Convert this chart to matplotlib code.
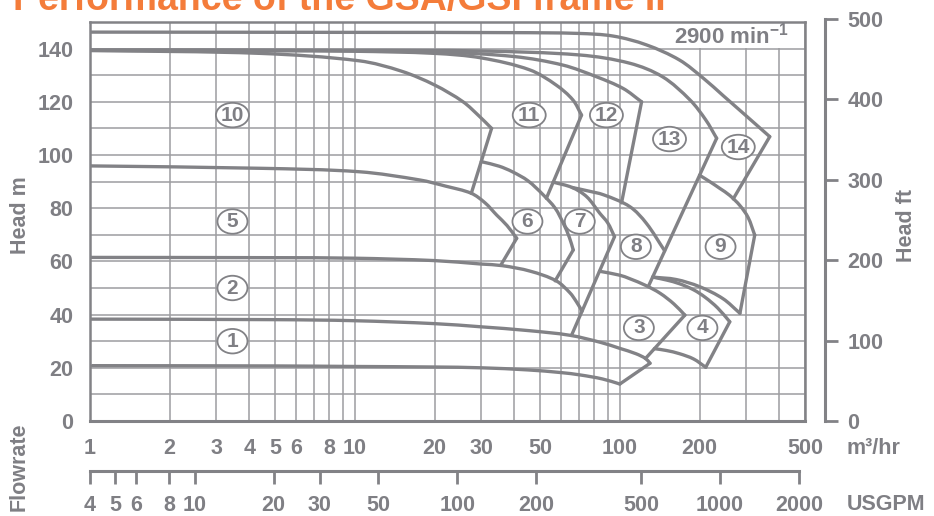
import numpy as np
import matplotlib
matplotlib.use('Agg')
import matplotlib.pyplot as plt
from matplotlib.patches import Ellipse, Rectangle, PathPatch
from matplotlib.path import Path
from matplotlib import transforms
from matplotlib.ticker import FixedLocator, FixedFormatter, NullFormatter, NullLocator

plt.rcParams['font.family'] = ['Liberation Sans', 'DejaVu Sans']
plt.rcParams['font.weight'] = 'bold'
plt.rcParams['mathtext.fontset'] = 'custom'
plt.rcParams['mathtext.rm'] = 'Liberation Sans:bold'
plt.rcParams['mathtext.it'] = 'Liberation Sans:bold'
plt.rcParams['mathtext.bf'] = 'Liberation Sans:bold'
plt.rcParams['mathtext.default'] = 'rm'

# ---------------- axis values ----------------
flow_ticks = [1, 2, 3, 4, 5, 6, 8, 10, 20, 30, 50, 100, 200, 500]
flow_grid = [7, 9, 40, 60, 70, 80, 90, 300, 400]
head_ticks = [0, 20, 40, 60, 80, 100, 120, 140]
head_grid = [10, 30, 50, 70, 90, 110, 130, 150]
feet_ticks = [0, 100, 200, 300, 400, 500]
gpm_ticks = [4, 5, 6, 8, 10, 20, 30, 50, 100, 200, 500, 1000, 2000]

# ---------------- pump curves: flow m3/h, head m ----------------
q_a = [1.02, 5, 10, 20, 30, 45, 60, 71, 86, 100]
h_a = [20.8, 20.7, 20.5, 20.3, 20.0, 19.2, 18.2, 17.3, 15.8, 13.9]

q_b = [1, 5, 10, 20, 30, 45, 65, 85, 100, 115, 125, 130]
h_b = [38.3, 38.1, 37.7, 36.6, 35.4, 34.0, 32.2, 29.5, 27.3, 25.3, 23.5, 21.7]

q_c = [1, 5, 10, 20, 30, 36, 46, 57.5, 64.8, 68.6, 72]
h_c = [61.5, 61.4, 61.2, 60.3, 59.0, 58.4, 56.3, 52.7, 48.2, 44.8, 41.3]

q_d = [1, 4.4, 10.4, 17.6, 22, 27.5, 31, 34.3, 37.5, 40.8]
h_d = [95.9, 95.0, 93.7, 90.6, 88.3, 85.6, 82.0, 77.4, 73.5, 68.7]

q_e = [1, 4.4, 10.4, 15, 20, 25.6, 29.6, 32.8]
h_e = [139.3, 138.2, 135.4, 131.5, 126.3, 120.0, 114.4, 110.0]

q_f = [30.0, 35, 39.3, 45, 51.4, 57, 61.2, 64.5, 66.7]
h_f = [97.5, 95.8, 93.7, 90.3, 85.0, 80.0, 74.3, 69.0, 64.3]

q_g = [1, 5, 10, 20, 30, 45.7, 57.5, 66.5, 71.7]
h_g = [139.3, 139.2, 139.0, 138.2, 136.5, 132.0, 126.3, 120.7, 115.0]

q_h = [1, 10, 20, 40, 61, 81.7, 103, 120.8]
h_h = [139.4, 139.2, 138.8, 137.0, 133.8, 129.4, 125.0, 120.0]

q_i = [1, 10, 30, 70.6, 109, 145, 184, 211, 232]
h_i = [139.5, 139.4, 139.1, 137.6, 134.5, 129.4, 120.7, 113.2, 106.3]

q_j = [66, 75, 87, 109, 126, 147.6]
h_j = [87.8, 86.6, 85.0, 80.6, 74.3, 64.0]

q_k = [56, 66, 75, 84, 90, 95.5]
h_k = [89.8, 87.8, 84.3, 78.1, 74.5, 69.3]

q_l = [83.8, 100, 109, 125, 142, 160, 176]
h_l = [56.3, 54.8, 53.5, 51.0, 48.0, 44.0, 39.8]

q_m = [135, 150, 168, 190, 211]
h_m = [27.2, 26.5, 25.3, 23.3, 20.2]

q_n = [133, 150, 168, 190, 210, 234, 260]
h_n = [54.1, 53.0, 51.6, 49.3, 46.5, 42.5, 37.3]

q_o = [133, 163, 200, 245, 284]
h_o = [54.1, 53.2, 50.5, 46.0, 40.5]

q_p = [200, 220, 238, 260, 284, 305, 323]
h_p = [92.4, 89.8, 87.5, 84.8, 81.0, 76.5, 69.9]

q_top = [1, 10, 40, 70, 94.5, 126, 168, 207, 245, 300, 368]
h_top = [146.2, 146.1, 146.0, 145.7, 144.7, 141.4, 135.7, 128.8, 122.4, 114.7, 106.9]

curves = [(q_a, h_a), (q_b, h_b), (q_c, h_c), (q_d, h_d), (q_e, h_e),
          (q_f, h_f), (q_g, h_g), (q_h, h_h), (q_i, h_i), (q_j, h_j),
          (q_k, h_k), (q_l, h_l), (q_m, h_m), (q_n, h_n), (q_o, h_o),
          (q_p, h_p), (q_top, h_top)]

# ---------------- end-of-range limit lines ----------------
edge_q_start = [100, 40.8, 66.7, 32.8, 71.7, 95.5, 120.8, 232, 176, 260, 323, 368]
edge_h_start = [13.9, 68.7, 64.3, 110.0, 115.0, 69.3, 120.0, 106.3, 39.8, 37.3, 69.9, 106.9]
edge_q_end = [130, 35.5, 57.0, 27.5, 52.8, 65.7, 101.5, 128, 125, 211, 284, 268]
edge_h_end = [21.7, 58.5, 52.7, 85.6, 83.7, 32.2, 82.0, 50.5, 23.5, 20.2, 40.5, 83.5]

# ---------------- range numbers ----------------
range_ids = ['1', '2', '5', '10', '11', '12', '13', '14', '6', '7', '8', '9', '3', '4']
range_q = [3.45, 3.45, 3.45, 3.45, 45.5, 89, 154, 280, 44.8, 70.6, 115, 240, 118, 205]
range_h = [30, 50, 75, 115, 115, 115, 106, 103, 75, 75, 65.5, 65.5, 35, 35]

# ---------------- styling ----------------
LINE = '#828286'
GRID = '#9d9da1'
TEXT = '#7f7f84'
ORANGE = '#f47c3a'
FS = 15.5

W, H = 934, 516
fig = plt.figure(figsize=(W / 100, H / 100), dpi=100)


def box(x0, y0, x1, y1):
    return [x0 / W, 1 - y1 / H, (x1 - x0) / W, (y1 - y0) / H]


ax = fig.add_axes(box(90, 22, 805, 421))
ax.set_xscale('log')
ax.set_xlim(1, 500)
ax.set_ylim(0, 150)
ax.set_axisbelow(True)

ax.xaxis.set_major_locator(FixedLocator(flow_ticks))
ax.xaxis.set_major_formatter(FixedFormatter([str(v) for v in flow_ticks]))
ax.xaxis.set_minor_locator(FixedLocator(flow_grid))
ax.xaxis.set_minor_formatter(NullFormatter())
ax.yaxis.set_major_locator(FixedLocator(head_ticks))
ax.yaxis.set_minor_locator(FixedLocator(head_grid))
ax.yaxis.set_minor_formatter(NullFormatter())
ax.tick_params(which='both', length=0)
ax.tick_params(axis='x', pad=12, labelsize=FS, labelcolor=TEXT)
ax.tick_params(axis='y', pad=12, labelsize=FS, labelcolor=TEXT)
ax.grid(which='both', color=GRID, lw=1.1)
for side, sp in ax.spines.items():
    sp.set_color(LINE)
    sp.set_linewidth(2.2 if side == 'bottom' else 1.8)


def smooth_path(q, h):
    """Smooth cubic path through the given points, built in display space."""
    pts = ax.transData.transform(np.column_stack([q, h]))
    n = len(pts)
    d = np.zeros_like(pts)
    for i in range(n):
        v = pts[min(i + 1, n - 1)] - pts[max(i - 1, 0)]
        d[i] = v / np.hypot(*v)
    verts = [pts[0]]
    codes = [Path.MOVETO]
    for i in range(n - 1):
        seg = np.hypot(*(pts[i + 1] - pts[i]))
        verts += [pts[i] + d[i] * seg / 3, pts[i + 1] - d[i + 1] * seg / 3, pts[i + 1]]
        codes += [Path.CURVE4] * 3
    verts = ax.transData.inverted().transform(np.array(verts))
    return Path(verts, codes)


# speed note box
ax.add_patch(Rectangle(((676 - 90) / 715, (421 - 48) / 399), (803 - 676) / 715, 25 / 399,
                       transform=ax.transAxes, facecolor='white', edgecolor='none', zorder=1.5))
ax.text(1 - (805 - 789) / 715, (421 - 36) / 399, '2900 min$^{-1}$', transform=ax.transAxes,
        ha='right', va='center', fontsize=16, color=TEXT, zorder=4)

for q, h in curves:
    ax.add_patch(PathPatch(smooth_path(q, h), facecolor='none', edgecolor=LINE, lw=2.4,
                           capstyle='round', joinstyle='round', zorder=3))
for qs, hs, qe, he in zip(edge_q_start, edge_h_start, edge_q_end, edge_h_end):
    ax.plot([qs, qe], [hs, he], color=LINE, lw=2.4, solid_joinstyle='round',
            solid_capstyle='round', zorder=3)

for name, q, h in zip(range_ids, range_q, range_h):
    tr = fig.dpi_scale_trans + transforms.ScaledTranslation(q, h, ax.transData)
    w = 0.33 if len(name) > 1 else 0.30
    ax.add_patch(Ellipse((0, 0), w, 0.245, transform=tr, facecolor='white',
                         edgecolor=LINE, lw=1.3, zorder=4))
    ax.text(q, h, name, ha='center', va='center', fontsize=15, color=TEXT, zorder=5)

# head in feet
axf = fig.add_axes(box(700, 19, 825, 421))
axf.set_ylim(0, 500)
axf.patch.set_visible(False)
for side in ['left', 'top', 'bottom']:
    axf.spines[side].set_visible(False)
axf.spines['right'].set_color(LINE)
axf.spines['right'].set_linewidth(2.2)
axf.xaxis.set_major_locator(NullLocator())
axf.yaxis.tick_right()
axf.yaxis.set_major_locator(FixedLocator(feet_ticks))
axf.tick_params(axis='y', direction='out', length=9.5, width=2.0, color=LINE,
                pad=6.5, labelsize=FS, labelcolor=TEXT)

# flow in US gallons per minute
axg = fig.add_axes(box(90, 471, 799, 480))
axg.set_xscale('log')
axg.set_xlim(4, 2000)
axg.patch.set_visible(False)
for side in ['left', 'top', 'right']:
    axg.spines[side].set_visible(False)
axg.spines['bottom'].set_position(('axes', 1.0))
axg.spines['bottom'].set_color(LINE)
axg.spines['bottom'].set_linewidth(2.2)
axg.yaxis.set_major_locator(NullLocator())
axg.xaxis.set_major_locator(FixedLocator(gpm_ticks))
axg.xaxis.set_major_formatter(FixedFormatter([str(v) for v in gpm_ticks]))
axg.xaxis.set_minor_locator(NullLocator())
axg.tick_params(axis='x', direction='out', length=9, width=2.0, color=LINE,
                pad=8.5, labelsize=FS, labelcolor=TEXT)

# labels
fig.text(13 / W, 1 - 10 / H, 'Performance of the GSA/GSI frame II', fontsize=27,
         color=ORANGE, ha='left', va='baseline')
fig.text(20 / W, 1 - 215 / H, 'Head m', rotation=90, ha='center', va='center',
         fontsize=FS, color=TEXT)
fig.text(907 / W, 1 - 225 / H, 'Head ft', rotation=90, ha='center', va='center',
         fontsize=FS, color=TEXT)
fig.text(19 / W, 1 - 467 / H, 'Flowrate', rotation=90, ha='center', va='center',
         fontsize=FS, color=TEXT)
fig.text(847 / W, 1 - 448 / H, 'm³/hr', ha='left', va='center', fontsize=FS, color=TEXT)
fig.text(847 / W, 1 - 505 / H, 'USGPM', ha='left', va='center', fontsize=FS, color=TEXT)

fig.savefig('out.png', dpi=100)
